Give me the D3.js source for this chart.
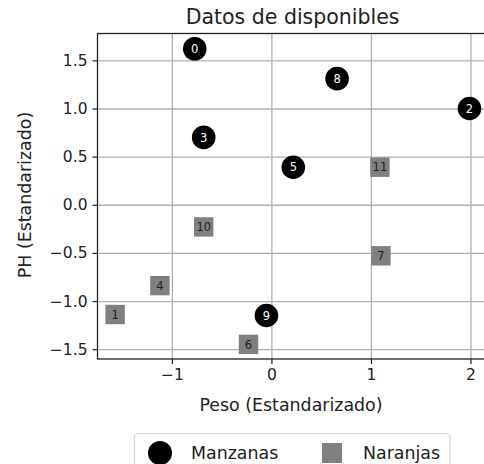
<html>
<head>
  <script src="https://d3js.org/d3.v7.min.js"></script>
  <style>
    body { margin: 0; background: #fff; }
    text { font-family: "DejaVu Sans", sans-serif; }
  </style>
</head>
<body>
  <div id="chart"></div>
  <script>

    // Sample values
    var ids   = [0, 1, 2, 3, 4, 5, 6, 7, 8, 9, 10, 11];
    var peso  = [-0.77, -1.57, 1.99, -0.68, -1.12, 0.22, -0.23, 1.10, 0.66, -0.05, -0.68, 1.09];
    var ph    = [1.62, -1.14, 1.00, 0.70, -0.84, 0.39, -1.45, -0.53, 1.31, -1.15, -0.23, 0.39];
    var clase = ["Manzanas", "Naranjas", "Manzanas", "Manzanas", "Naranjas", "Manzanas",
                 "Naranjas", "Naranjas", "Manzanas", "Manzanas", "Naranjas", "Naranjas"];
    var categorias = ["Manzanas", "Naranjas"];
    var xTicks = [-1, 0, 1, 2];
    var yTicks = [-1.5, -1.0, -0.5, 0.0, 0.5, 1.0, 1.5];

    var width = 484, height = 464;
    var plot = {left: 97.5, top: 33.5, right: 487.7, bottom: 359};

    var xScale = d3.scaleLinear().domain([-1.747, 2.173]).range([plot.left, plot.right]);
    var yScale = d3.scaleLinear().domain([-1.602, 1.779]).range([plot.bottom, plot.top]);

    var svg = d3.select("#chart")
      .append("svg")
        .attr("width", width)
        .attr("height", height);

    // Grid lines
    svg.append("g")
        .attr("transform", `translate(0,${plot.bottom})`)
        .call(d3.axisBottom(xScale).tickValues(xTicks).tickSize(-(plot.bottom - plot.top)).tickFormat(""))
        .call(g => g.select(".domain").remove())
        .call(g => g.selectAll("line").attr("stroke", "#b0b0b0").attr("stroke-width", 1.3));

    svg.append("g")
        .attr("transform", `translate(${plot.left},0)`)
        .call(d3.axisLeft(yScale).tickValues(yTicks).tickSize(-(plot.right - plot.left)).tickFormat(""))
        .call(g => g.select(".domain").remove())
        .call(g => g.selectAll("line").attr("stroke", "#b0b0b0").attr("stroke-width", 1.3));

    // Axes
    var xAxis = svg.append("g")
        .attr("transform", `translate(0,${plot.bottom})`)
        .call(d3.axisBottom(xScale).tickValues(xTicks).tickSize(5).tickPadding(5)
          .tickFormat(d => d < 0 ? "\u2212" + Math.abs(d) : d));

    var yAxis = svg.append("g")
        .attr("transform", `translate(${plot.left},0)`)
        .call(d3.axisLeft(yScale).tickValues(yTicks).tickSize(5).tickPadding(5)
          .tickFormat(d => (d < 0 ? "\u2212" : "") + Math.abs(d).toFixed(1)));

    [xAxis, yAxis].forEach(function(a) {
      a.select(".domain").remove();
      a.selectAll("line").attr("stroke", "#222").attr("stroke-width", 1.2);
      a.selectAll("text").attr("fill", "#222").style("font-size", "15.5px");
    });

    // Frame
    svg.append("rect")
        .attr("x", plot.left).attr("y", plot.top)
        .attr("width", plot.right - plot.left).attr("height", plot.bottom - plot.top)
        .attr("fill", "none").attr("stroke", "#222").attr("stroke-width", 1.3);

    // Points
    var puntos = ids.map((d, i) => ({id: d, x: peso[i], y: ph[i], c: clase[i]}));

    var g = svg.append("g");
    g.selectAll("circle")
      .data(puntos.filter(d => d.c === "Manzanas"))
      .join("circle")
        .attr("cx", d => xScale(d.x))
        .attr("cy", d => yScale(d.y))
        .attr("r", 11.8)
        .attr("fill", "#000");

    g.selectAll("rect")
      .data(puntos.filter(d => d.c === "Naranjas"))
      .join("rect")
        .attr("x", d => xScale(d.x) - 9.7)
        .attr("y", d => yScale(d.y) - 9.7)
        .attr("width", 19.4)
        .attr("height", 19.4)
        .attr("fill", "#808080");

    g.selectAll("text")
      .data(puntos)
      .join("text")
        .attr("x", d => xScale(d.x))
        .attr("y", d => yScale(d.y))
        .attr("dy", "0.36em")
        .attr("text-anchor", "middle")
        .attr("fill", d => d.c === "Manzanas" ? "#fff" : "#222")
        .style("font-size", "11.5px")
        .text(d => d.id);

    // Title and labels
    svg.append("text")
        .attr("x", (plot.left + plot.right) / 2)
        .attr("y", 24)
        .attr("text-anchor", "middle")
        .attr("fill", "#222")
        .style("font-size", "20.5px")
        .text("Datos de disponibles");

    svg.append("text")
        .attr("x", 291)
        .attr("y", 411)
        .attr("text-anchor", "middle")
        .attr("fill", "#222")
        .style("font-size", "17.4px")
        .text("Peso (Estandarizado)");

    svg.append("text")
        .attr("transform", "translate(31,195) rotate(-90)")
        .attr("text-anchor", "middle")
        .attr("fill", "#222")
        .style("font-size", "17.4px")
        .text("PH (Estandarizado)");

    // Legend
    var legend = svg.append("g");
    legend.append("rect")
        .attr("x", 134.5).attr("y", 433.5)
        .attr("width", 315.5).attr("height", 44)
        .attr("rx", 4)
        .attr("fill", "#fff").attr("stroke", "#d6d6d6").attr("stroke-width", 1.2);

    var legendX = [160, 332];
    categorias.forEach(function(c, i) {
      if (c === "Manzanas") {
        legend.append("circle").attr("cx", legendX[i]).attr("cy", 453).attr("r", 12).attr("fill", "#000");
      } else {
        legend.append("rect").attr("x", legendX[i] - 10).attr("y", 443).attr("width", 20).attr("height", 20).attr("fill", "#808080");
      }
      legend.append("text")
          .attr("x", legendX[i] + 31)
          .attr("y", 459)
          .attr("fill", "#222")
          .style("font-size", "17.4px")
          .text(c);
    });

  </script>
</body>
</html>
